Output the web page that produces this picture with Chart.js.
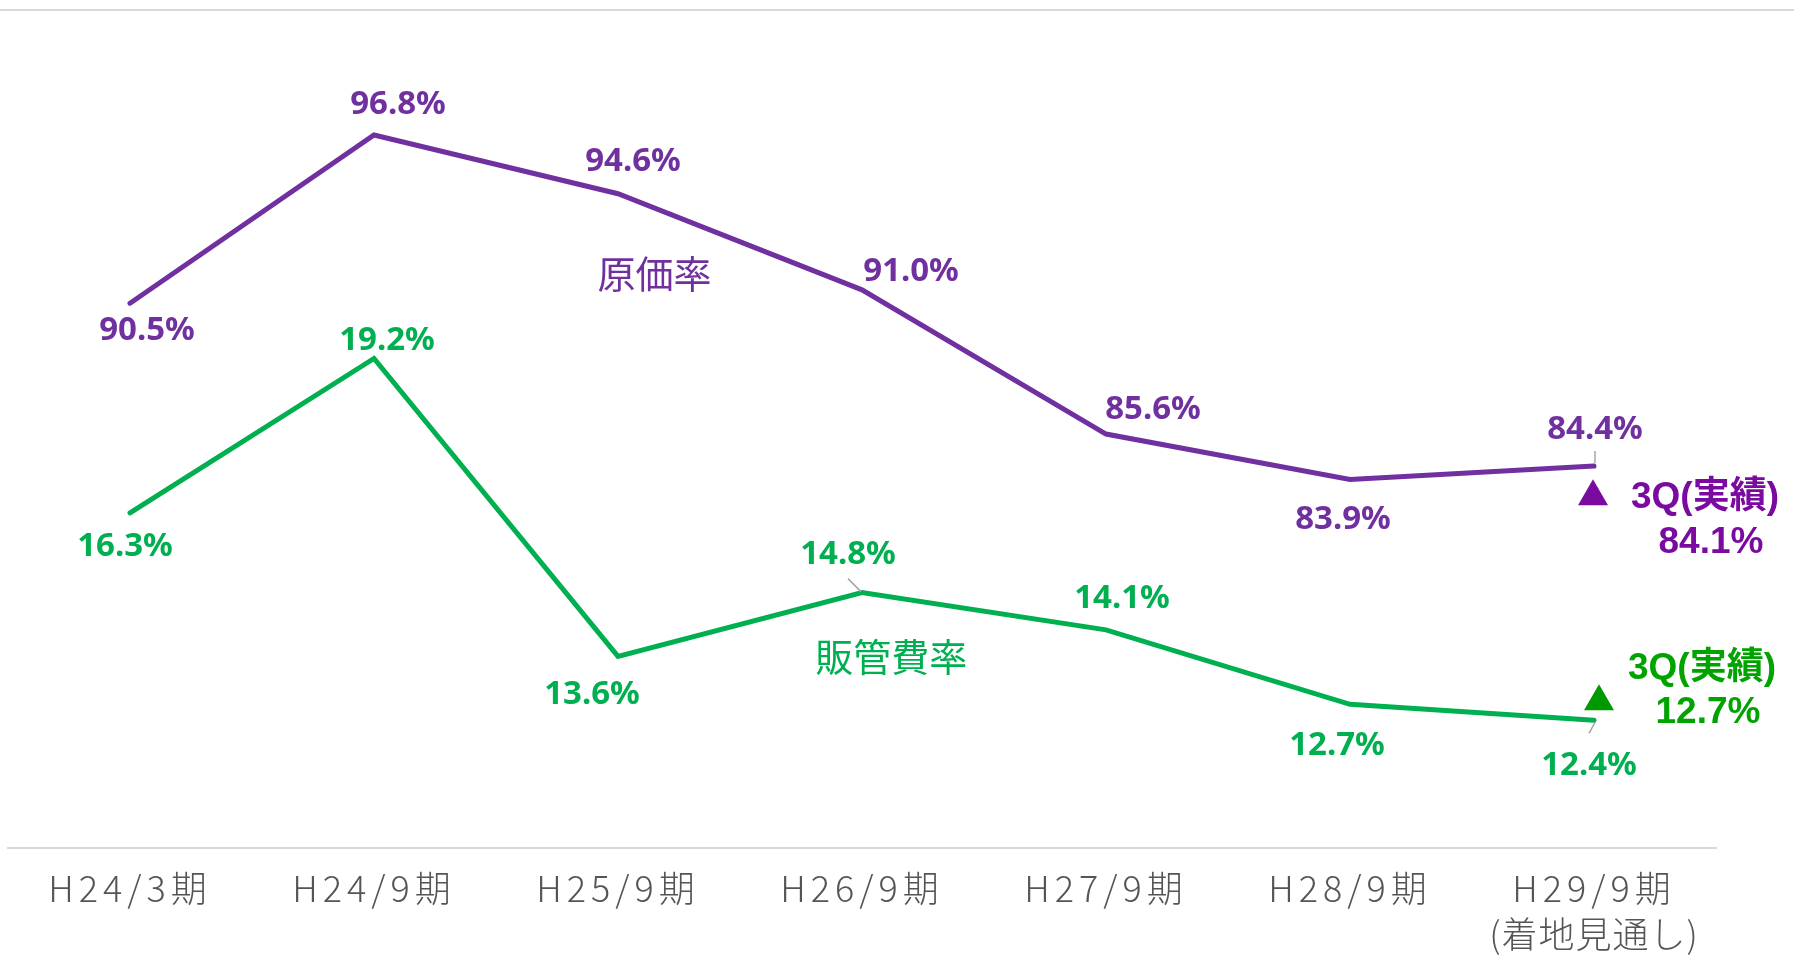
<!DOCTYPE html>
<html>
<head>
<meta charset="utf-8">
<script src="https://cdn.jsdelivr.net/npm/chart.js@4/dist/chart.umd.min.js"></script>
<style>
  body { margin: 0; background: #fff; }
  #wrap { width: 1794px; height: 974px; }
</style>
</head>
<body>
<div id="wrap"><canvas id="mycanvas" width="1794" height="974"></canvas></div>
<script>
// values
var categories = ['H24/3期', 'H24/9期', 'H25/9期', 'H26/9期', 'H27/9期', 'H28/9期', ['H29/9期', '(着地見通し)']];
var costRate = [90.5, 96.8, 94.6, 91.0, 85.6, 83.9, 84.4];   // 原価率
var sgaRate = [16.3, 19.2, 13.6, 14.8, 14.1, 12.7, 12.4];    // 販管費率
var q3CostRate = 84.1;  // 3Q(実績)
var q3SgaRate = 12.7;   // 3Q(実績)

var PURPLE = '#7030a0';
var GREEN = '#00b050';

// label placement (offset from each point, px)
var costLabelPos = [[17, 27], [24, -30], [15, -32], [49, -18], [47, -24], [-7, 40], [1, -37]];
var sgaLabelPos = [[-5, 34], [13, -18], [-26, 38], [-14, -38], [16, -31], [-13, 41], [-5, 45]];

var origFillText = CanvasRenderingContext2D.prototype.fillText;

var labelPlugin = {
    id: 'labels',
    beforeDraw: function (chart) {
        var ctx = chart.ctx;
        ctx.save();
        ctx.strokeStyle = '#d9d9d9';
        ctx.lineWidth = 2;
        ctx.beginPath();
        ctx.moveTo(0, 10);
        ctx.lineTo(chart.width, 10);
        ctx.stroke();
        ctx.restore();
        // wider spacing on the axis labels, tighter on the bracketed note
        ctx.fillText = function (t, px, py, w) {
            this.letterSpacing = String(t).charAt(0) === '(' ? '1px' : '5px';
            return origFillText.call(this, t, px, py, w);
        };
    },
    beforeDatasetsDraw: function (chart) {
        delete chart.ctx.fillText;
        chart.ctx.letterSpacing = '0px';
    },
    afterDatasetsDraw: function (chart) {
        var ctx = chart.ctx;
        var x = chart.scales.x, yP = chart.scales.yP, yG = chart.scales.yG;
        var mP = chart.getDatasetMeta(0).data, mG = chart.getDatasetMeta(1).data;
        ctx.save();
        ctx.textAlign = 'center';
        ctx.textBaseline = 'middle';

        // leader lines
        ctx.strokeStyle = '#a6a6a6';
        ctx.lineWidth = 1.5;
        function leader(p, x1, y1, x2, y2) {
            ctx.beginPath();
            ctx.moveTo(p.x + x1, p.y + y1);
            ctx.lineTo(p.x + x2, p.y + y2);
            ctx.stroke();
        }
        leader(mP[6], 1, -3, 1, -15);
        leader(mG[3], -1, -1, -14, -14);
        leader(mG[6], 1, 2, -5, 13);

        ctx.font = 'bold 33px "Noto Sans"';
        ctx.fillStyle = PURPLE;
        mP.forEach(function (p, i) {
            ctx.fillText(costRate[i].toFixed(1) + '%', p.x + costLabelPos[i][0], p.y + costLabelPos[i][1]);
        });
        ctx.fillStyle = GREEN;
        mG.forEach(function (p, i) {
            ctx.fillText(sgaRate[i].toFixed(1) + '%', p.x + sgaLabelPos[i][0], p.y + sgaLabelPos[i][1]);
        });

        // series names
        ctx.font = '38px "Noto Sans CJK JP"';
        ctx.fillStyle = PURPLE;
        ctx.fillText('原価率', x.getPixelForValue(2.15), yP.getPixelForValue(91.6));
        ctx.fillStyle = GREEN;
        ctx.fillText('販管費率', x.getPixelForValue(3.12), yG.getPixelForValue(13.6));

        // 3Q actual markers
        function tri(cx, cy, color) {
            ctx.fillStyle = color;
            ctx.beginPath();
            ctx.moveTo(cx, cy - 13);
            ctx.lineTo(cx + 15, cy + 13);
            ctx.lineTo(cx - 15, cy + 13);
            ctx.closePath();
            ctx.fill();
        }
        var last = x.getPixelForValue(6);
        ctx.font = 'bold 37px "Liberation Sans", "Noto Sans CJK JP"';

        var ty = yP.getPixelForValue(q3CostRate) + 18;
        tri(last - 1, ty, '#7a0aa0');
        ctx.fillStyle = '#7a0aa0';
        ctx.fillText('3Q(実績)', last + 111, ty + 6);
        ctx.fillText(q3CostRate.toFixed(1) + '%', last + 117, ty + 51);

        ty = yG.getPixelForValue(q3SgaRate) - 7;
        tri(last + 5, ty, '#009a00');
        ctx.fillStyle = '#00a300';
        ctx.fillText('3Q(実績)', last + 108, ty - 29);
        ctx.fillText(q3SgaRate.toFixed(1) + '%', last + 114, ty + 15);
        ctx.restore();
    }
};

var ctx = document.getElementById('mycanvas');

var chart = new Chart(ctx, {
    type: 'line',
    data: {
        labels: categories,
        datasets: [
            {
                label: '原価率',
                data: costRate,
                yAxisID: 'yP',
                borderColor: PURPLE,
                borderWidth: 5,
                borderCapStyle: 'round',
                pointRadius: 0,
                fill: false,
                tension: 0
            },
            {
                label: '販管費率',
                data: sgaRate,
                yAxisID: 'yG',
                borderColor: GREEN,
                borderWidth: 5,
                borderCapStyle: 'round',
                pointRadius: 0,
                fill: false,
                tension: 0
            }
        ]
    },
    options: {
        responsive: false,
        animation: false,
        layout: { padding: { left: 8, right: 78, top: 10, bottom: 0 } },
        plugins: {
            legend: { display: false },
            tooltip: { enabled: false }
        },
        scales: {
            x: {
                offset: true,
                grid: { display: false },
                border: { display: true, color: '#d9d9d9', width: 2 },
                ticks: {
                    autoSkip: false,
                    maxRotation: 0,
                    padding: 9,
                    color: '#555555',
                    font: { family: '"Noto Sans CJK JP"', size: 36, weight: '300', lineHeight: 1.28 }
                },
                afterFit: function (axis) { axis.height = 126; }
            },
            yP: { display: false, min: 70.1, max: 101.48 },
            yG: { display: false, min: 10.0, max: 25.75 }
        }
    },
    plugins: [labelPlugin]
});
</script>
</body>
</html>
